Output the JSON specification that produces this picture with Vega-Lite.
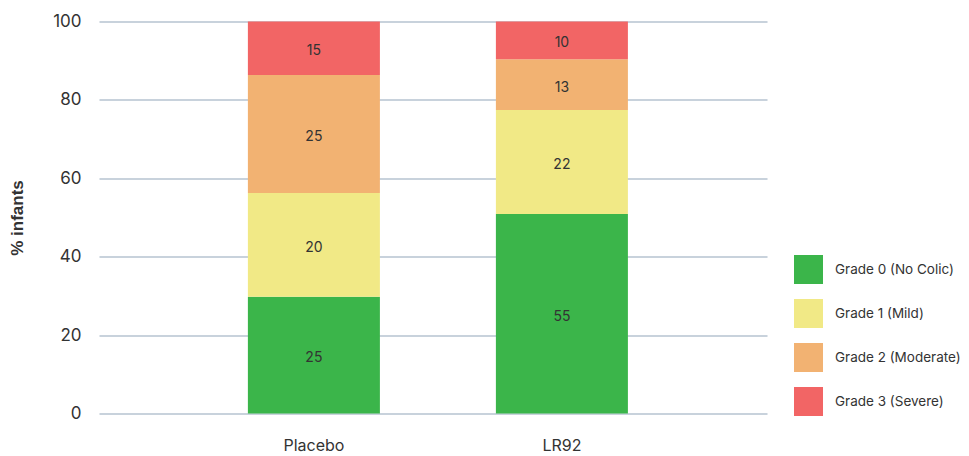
{
  "$schema": "https://vega.github.io/schema/vega-lite/v6.json",
  "width": 668,
  "height": 392,
  "autosize": {"type": "none"},
  "padding": {"left": 99, "top": 21.5, "right": 202, "bottom": 42.5},
  "background": "white",
  "config": {"view": {"stroke": null}},
  "data": {
    "values": [
      {"group": "Placebo", "grade": "Grade 0 (No Colic)", "order": 0, "pct": 29.8, "label": "25"},
      {"group": "Placebo", "grade": "Grade 1 (Mild)", "order": 1, "pct": 26.45, "label": "20"},
      {"group": "Placebo", "grade": "Grade 2 (Moderate)", "order": 2, "pct": 30.1, "label": "25"},
      {"group": "Placebo", "grade": "Grade 3 (Severe)", "order": 3, "pct": 13.65, "label": "15"},
      {"group": "LR92", "grade": "Grade 0 (No Colic)", "order": 0, "pct": 50.9, "label": "55"},
      {"group": "LR92", "grade": "Grade 1 (Mild)", "order": 1, "pct": 26.5, "label": "22"},
      {"group": "LR92", "grade": "Grade 2 (Moderate)", "order": 2, "pct": 13.0, "label": "13"},
      {"group": "LR92", "grade": "Grade 3 (Severe)", "order": 3, "pct": 9.6, "label": "10"}
    ]
  },
  "encoding": {
    "x": {
      "field": "group",
      "type": "nominal",
      "sort": ["Placebo", "LR92"],
      "scale": {"paddingInner": 0.4677, "paddingOuter": 0.5806, "align": 0.517},
      "axis": {
        "title": null,
        "labelAngle": 0,
        "domain": false,
        "ticks": false,
        "labelFont": "Inter",
        "labelFontSize": 16,
        "labelColor": "#333333",
        "labelPadding": 24
      }
    },
    "y": {
      "field": "pct",
      "type": "quantitative",
      "stack": "zero",
      "scale": {"domain": [0, 100], "nice": false},
      "axis": {
        "title": "% infants",
        "titleFont": "Liberation Sans",
        "titleFontWeight": "bold",
        "titleFontSize": 17,
        "titleColor": "#333333",
        "titlePadding": 26,
        "values": [0, 20, 40, 60, 80, 100],
        "domain": false,
        "ticks": false,
        "labelFont": "Inter",
        "labelFontSize": 17,
        "labelColor": "#333333",
        "labelPadding": 18,
        "grid": true,
        "gridColor": "#c8d2dc",
        "gridWidth": 2
      }
    },
    "order": {"field": "order", "type": "quantitative", "sort": "ascending"}
  },
  "layer": [
    {
      "mark": {"type": "bar"},
      "encoding": {
        "color": {
          "field": "grade",
          "type": "nominal",
          "sort": ["Grade 0 (No Colic)", "Grade 1 (Mild)", "Grade 2 (Moderate)", "Grade 3 (Severe)"],
          "scale": {
            "domain": ["Grade 0 (No Colic)", "Grade 1 (Mild)", "Grade 2 (Moderate)", "Grade 3 (Severe)"],
            "range": ["#3bb54a", "#f1e986", "#f2b272", "#f26565"]
          },
          "legend": {
            "title": null,
            "orient": "none",
            "legendX": 695,
            "legendY": 233.5,
            "symbolType": "square",
            "symbolSize": 841,
            "symbolStrokeWidth": 0,
            "symbolOpacity": 1,
            "rowPadding": 15,
            "labelOffset": 12,
            "labelFont": "Inter",
            "labelFontSize": 13.5,
            "labelColor": "#333333",
            "labelLimit": 300
          }
        }
      }
    },
    {
      "mark": {"type": "text", "font": "Inter", "fontSize": 14, "color": "#333333", "dy": 3},
      "encoding": {
        "y": {"field": "pct", "type": "quantitative", "stack": "zero", "bandPosition": 0.5},
        "text": {"field": "label", "type": "nominal"}
      }
    }
  ]
}
